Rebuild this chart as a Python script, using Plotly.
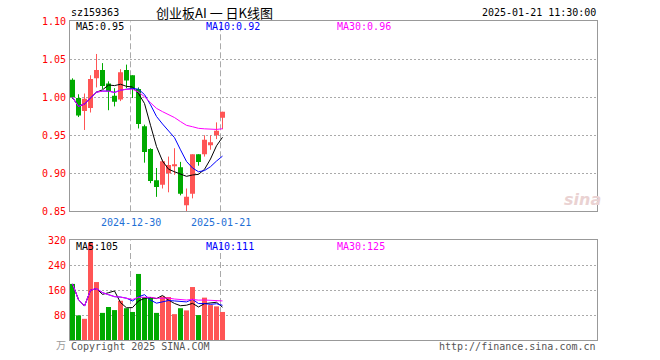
import plotly.graph_objects as go
import numpy as np

# ---------------- data ----------------
dates = ["2024-12-16", "2024-12-17", "2024-12-18", "2024-12-19", "2024-12-20",
         "2024-12-23", "2024-12-24", "2024-12-25", "2024-12-26", "2024-12-27",
         "2024-12-30", "2024-12-31", "2025-01-02", "2025-01-03", "2025-01-06",
         "2025-01-07", "2025-01-08", "2025-01-09", "2025-01-10", "2025-01-13",
         "2025-01-14", "2025-01-15", "2025-01-16", "2025-01-17", "2025-01-20",
         "2025-01-21"]
opens = [1.023, 0.999, 0.982, 0.986, 1.025, 1.036, 1.018, 1.002, 0.997, 1.036,
         1.029, 1.011, 0.962, 0.932, 0.891, 0.885, 0.900, 0.910, 0.908, 0.858,
         0.873, 0.925, 0.925, 0.937, 0.950, 0.973]
highs = [1.025, 1.004, 1.005, 1.029, 1.057, 1.045, 1.021, 1.012, 1.037, 1.043,
         1.029, 1.013, 0.964, 0.933, 0.907, 0.918, 0.922, 0.933, 0.915, 0.880,
         0.925, 0.925, 0.950, 0.950, 0.967, 0.981]
lows = [0.998, 0.974, 0.957, 0.980, 1.013, 1.011, 0.983, 0.988, 0.995, 1.012,
        0.999, 0.959, 0.914, 0.887, 0.869, 0.880, 0.875, 0.898, 0.871, 0.850,
        0.867, 0.910, 0.922, 0.931, 0.945, 0.958]
closes = [1.000, 0.976, 0.998, 1.024, 1.036, 1.015, 1.008, 0.994, 1.033, 1.022,
          1.011, 0.965, 0.928, 0.890, 0.882, 0.916, 0.911, 0.911, 0.873, 0.869,
          0.925, 0.915, 0.944, 0.941, 0.956, 0.981]
volumes = [180, 79, 68, 312, 186, 87, 106, 96, 126, 102,
           90, 212, 138, 138, 87, 140, 138, 83, 102, 95,
           170, 80, 136, 112, 108, 90]
price_ticks = [0.85, 0.90, 0.95, 1.00, 1.05, 1.10]
volume_ticks = [80, 160, 240, 320]
marked_dates = ["2024-12-30", "2025-01-21"]

title_code = "sz159363"
title_name = "创业板AI 一 日K线图"
timestamp = "2025-01-21 11:30:00"

# ---------------- derived ----------------
n = len(dates)
idx = list(range(n))


def moving_avg(arr, w):
    return [float(np.mean(arr[max(0, i - w + 1):i + 1])) for i in range(len(arr))]


ma5, ma10, ma30 = moving_avg(closes, 5), moving_avg(closes, 10), moving_avg(closes, 30)
vma5, vma10, vma30 = moving_avg(volumes, 5), moving_avg(volumes, 10), moving_avg(volumes, 30)

RED = "#ff5555"
GREEN = "#00aa00"
up = [c >= o for o, c in zip(opens, closes)]
colors = [RED if u else GREEN for u in up]

# ---------------- geometry helpers ----------------
W, H = 660, 360
L, R, T, B = 70, 63, 20, 20
PW, PH = W - L - R, H - T - B


def px(x):
    return (x - L) / PW


def py(y):
    return (H - B - y) / PH


XR = [-2.5 / 6, (597 - 72.5) / 6]

fig = go.Figure()

# wicks
for flag, col in [(True, RED), (False, GREEN)]:
    wx, wy = [], []
    for i in idx:
        if up[i] == flag:
            wx += [i, i, None]
            wy += [lows[i], highs[i], None]
    fig.add_trace(go.Scatter(x=wx, y=wy, mode="lines", line=dict(color=col, width=1),
                             xaxis="x", yaxis="y", hoverinfo="skip"))

# bodies
bases = [min(o, c) for o, c in zip(opens, closes)]
heights = [max(abs(c - o), 0.0013) for o, c in zip(opens, closes)]
fig.add_trace(go.Bar(x=idx, y=heights, base=bases, width=5 / 6,
                     marker=dict(color=colors, line=dict(width=0)),
                     xaxis="x", yaxis="y", hoverinfo="skip"))

# price MAs
for series, col in [(ma5, "#000000"), (ma10, "#0000ff"), (ma30, "#ff00ff")]:
    fig.add_trace(go.Scatter(x=idx, y=series, mode="lines", line=dict(color=col, width=1),
                             xaxis="x", yaxis="y", hoverinfo="skip"))

# volume bars
fig.add_trace(go.Bar(x=idx, y=volumes, width=5 / 6,
                     marker=dict(color=colors, line=dict(width=0)),
                     xaxis="x2", yaxis="y2", hoverinfo="skip"))
for series, col in [(vma5, "#000000"), (vma10, "#0000ff"), (vma30, "#ff00ff")]:
    fig.add_trace(go.Scatter(x=idx, y=series, mode="lines", line=dict(color=col, width=1),
                             xaxis="x2", yaxis="y2", hoverinfo="skip"))

# dashed date markers
shapes = []
for d in marked_dates:
    xi = dates.index(d) - 1 / 3
    shapes.append(dict(type="line", xref="x", yref="y", x0=xi, x1=xi,
                       y0=price_ticks[0], y1=price_ticks[-1],
                       line=dict(color="#aaaaaa", width=1, dash="6px,3px"), layer="below"))
    shapes.append(dict(type="line", xref="x2", yref="y2", x0=xi, x1=xi,
                       y0=0, y1=volume_ticks[-1],
                       line=dict(color="#aaaaaa", width=1, dash="6px,3px"), layer="below"))

MONO = "DejaVu Sans Mono"
ann = []


def text(s, x, y, color="#000000", size=10, xanchor="left", family=MONO, xref="paper"):
    ann.append(dict(text=s, x=x if xref != "paper" else px(x), y=py(y), xref=xref, yref="paper",
                    xanchor=xanchor, yanchor="middle", showarrow=False,
                    font=dict(family=family, size=size, color=color)))


text(title_code, 69, 12)
text(title_name, 214, 12, size=13, xanchor="center", family="Noto Sans CJK SC")
text(timestamp, 598, 12, xanchor="right")
text(f"MA5:{ma5[-1]:.2f}", 74, 27)
text(f"MA10:{ma10[-1]:.2f}", 204, 27, color="#0000ff")
text(f"MA30:{ma30[-1]:.2f}", 335, 27, color="#ff00ff")
text(f"MA5:{vma5[-1]:.0f}", 74, 246)
text(f"MA10:{vma10[-1]:.0f}", 204, 246, color="#0000ff")
text(f"MA30:{vma30[-1]:.0f}", 335, 246, color="#ff00ff")
for d in marked_dates:
    text(d, dates.index(d) - 1 / 3, 222, color="#1e6fd6", xanchor="center", xref="x")
text("Copyright 2025 SINA.COM", 69, 346, color="#555555")
text("http://finance.sina.com.cn", 598, 346, color="#555555", xanchor="right")
text("万", 68, 344, color="#999999", xanchor="right", family="Noto Sans CJK SC")
ann.append(dict(text="sina", x=px(582), y=py(199), xref="paper", yref="paper",
                xanchor="center", yanchor="middle", showarrow=False,
                font=dict(family="DejaVu Sans", size=16, color="#ead2d2",
                          weight="bold", style="italic")))

axis_common = dict(showgrid=False, zeroline=False, showline=True, linecolor="#999999",
                   linewidth=1, mirror=True, fixedrange=True)
yfont = dict(family=MONO, size=10, color="#ff0000")

fig.update_layout(
    width=W, height=H, margin=dict(l=L, r=R, t=T, b=B),
    paper_bgcolor="#ffffff", plot_bgcolor="#ffffff",
    showlegend=False, barmode="overlay", hovermode=False,
    xaxis=dict(domain=[0, 1], range=XR, showticklabels=False, anchor="y", **axis_common),
    xaxis2=dict(domain=[0, 1], range=XR, showticklabels=False, anchor="y2", matches="x",
                **axis_common),
    yaxis=dict(domain=[py(211.3), py(21.3)], range=[price_ticks[0], price_ticks[-1]],
               tickvals=price_ticks, ticktext=[f"{v:.2f}" for v in price_ticks],
               tickfont=yfont, ticks="", ticklabelstandoff=1, anchor="x",
               **{**axis_common, "showgrid": True}, gridcolor="#aaaaaa", griddash="2px,2px",
               gridwidth=1),
    yaxis2=dict(domain=[0, py(240.3)], range=[0, volume_ticks[-1]],
                tickvals=volume_ticks, ticktext=[str(v) for v in volume_ticks],
                tickfont=yfont, ticks="", ticklabelstandoff=1, anchor="x2",
                **{**axis_common, "showgrid": True}, gridcolor="#aaaaaa", griddash="2px,2px",
                gridwidth=1),
    shapes=shapes, annotations=ann,
)

fig.write_html("out.html", config={"displayModeBar": False},
               post_script="document.body.style.margin='0px';")
